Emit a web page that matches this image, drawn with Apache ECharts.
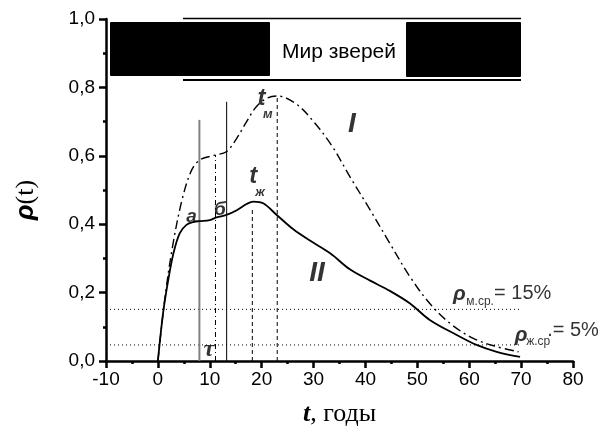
<!DOCTYPE html>
<html>
<head>
<meta charset="utf-8">
<script src="https://cdn.jsdelivr.net/npm/echarts@6/dist/echarts.min.js"></script>
<style>
html,body{margin:0;padding:0;background:#fff}
#main{width:601px;height:427px}
</style>
</head>
<body>
<div id="main"></div>
<script>
// кривая I (штрих-пунктир)
var tI = [0, 1.4, 3, 4.8, 6.5, 8.1, 11, 13.2, 15.2, 17.1, 19, 21, 23, 26.7, 30, 33.5, 37, 40.9, 44.7, 48.6, 52.4, 56.3, 60.8, 65.3, 69.5];
var vI = [0, 0.19, 0.35, 0.48, 0.558, 0.588, 0.602, 0.612, 0.651, 0.70, 0.744, 0.768, 0.775, 0.751, 0.70, 0.63, 0.539, 0.442, 0.344, 0.246, 0.168, 0.11, 0.066, 0.042, 0.027];
// кривая II (сплошная)
var tII = [0, 1, 2, 3, 4.2, 5.5, 7, 8, 10, 11.3, 13.2, 15.2, 17.1, 18.4, 20.3, 22.9, 26.1, 29.3, 33.2, 37, 40.9, 44.7, 48.6, 52.4, 57.6, 61.4, 65.3, 69.8];
var vII = [0, 0.14, 0.237, 0.315, 0.373, 0.398, 0.407, 0.409, 0.412, 0.42, 0.427, 0.441, 0.459, 0.466, 0.461, 0.427, 0.385, 0.352, 0.315, 0.268, 0.235, 0.205, 0.168, 0.12, 0.076, 0.047, 0.027, 0.012];
// вертикальные отметки: а, б(пунктир), б, tж, tм
var markT = [8, 11.1, 13.25, 18.2, 23.0];
var markTop = [0.705, 0.602, 0.758, 0.45, 0.775];
var markKind = ['gray', 'dashdot', 'solid', 'dash', 'dash'];
// уровни rho ср.
var levelV = [0.151, 0.047];
var levelFrom = -10, levelTo = 70;
// подписи
var noteText = ['а', 'б', 't', 'м', 't', 'ж', 'I', 'II', 'τ', 'ρ', 'м.ср.', '= 15%', 'ρ', 'ж.ср', '.= 5%'];
var noteT = [6.5, 11.95, 19.96, 21.2, 18.38, 19.67, 37.4, 30.66, 9.83, 58.1, 62.1, 70.3, 70.0, 73.3, 80.0];
var noteV = [0.422, 0.442, 0.7675, 0.722, 0.539, 0.493, 0.693, 0.257, 0.032, 0.196, 0.172, 0.198, 0.076, 0.057, 0.088];
var noteKind = ['letter', 'letter', 'tbig', 'sub', 'tbig', 'sub', 'roman', 'roman', 'tau', 'rho', 'sub2', 'eq', 'rho', 'sub2', 'eq'];

var chart = echarts.init(document.getElementById('main'));

function zip(a, b) {
    var out = [];
    for (var i = 0; i < a.length; i++) out.push([a[i], b[i]]);
    return out;
}

var lineStyles = {
    gray: {color: '#808080', width: 2, type: 'solid'},
    dashdot: {color: '#000', width: 1, type: [5, 3, 1, 3]},
    solid: {color: '#000', width: 1, type: 'solid'},
    dash: {color: '#000', width: 1, type: [4, 3]}
};

var noteStyles = {
    letter: {fontFamily: 'Liberation Sans', fontStyle: 'italic', fontWeight: 'bold', fontSize: 19},
    tbig: {fontFamily: 'Liberation Sans', fontStyle: 'italic', fontWeight: 'bold', fontSize: 24},
    sub: {fontFamily: 'Liberation Sans', fontStyle: 'italic', fontWeight: 'bold', fontSize: 13},
    roman: {fontFamily: 'Liberation Sans', fontStyle: 'italic', fontWeight: 'bold', fontSize: 28},
    tau: {fontFamily: 'Liberation Serif', fontStyle: 'italic', fontWeight: 'bold', fontSize: 24},
    rho: {fontFamily: 'Liberation Sans', fontStyle: 'italic', fontWeight: 'bold', fontSize: 21},
    sub2: {fontFamily: 'Liberation Sans', fontSize: 12},
    eq: {fontFamily: 'Liberation Sans', fontSize: 20}
};

var series = [];

// уровни
for (var i = 0; i < levelV.length; i++) {
    series.push({
        type: 'line', symbol: 'none', silent: true, z: 1,
        lineStyle: {color: '#000', width: 1, type: [1, 3]},
        data: [[levelFrom, levelV[i]], [levelTo, levelV[i]]]
    });
}
// вертикали
for (var j = 0; j < markT.length; j++) {
    series.push({
        type: 'line', symbol: 'none', silent: true, z: 2,
        lineStyle: lineStyles[markKind[j]],
        data: [[markT[j], 0], [markT[j], markTop[j]]]
    });
}
series.push({
    name: 'I', type: 'line', symbol: 'none', smooth: 0.35, z: 3,
    lineStyle: {color: '#000', width: 1.4, type: [9, 4, 2, 4]},
    data: zip(tI, vI)
});
series.push({
    name: 'II', type: 'line', symbol: 'none', smooth: 0.35, z: 3,
    lineStyle: {color: '#000', width: 1.8},
    data: zip(tII, vII)
});

var notes = [];
for (var k = 0; k < noteText.length; k++) {
    var st = noteStyles[noteKind[k]];
    notes.push({
        value: [noteT[k], noteV[k]],
        label: {
            show: true, position: 'inside', color: '#000',
            formatter: noteText[k],
            fontFamily: st.fontFamily, fontSize: st.fontSize,
            fontStyle: st.fontStyle || 'normal', fontWeight: st.fontWeight || 'normal'
        }
    });
}
series.push({
    type: 'scatter', symbolSize: 0, silent: true, clip: false, z: 5,
    data: notes
});

var option = {
    animation: false,
    backgroundColor: '#fff',
    grid: {left: 106, right: 28, top: 19, bottom: 66, outerBoundsMode: 'none', containLabel: false},
    xAxis: {
        type: 'value', min: -10, max: 80, interval: 10,
        axisLine: {show: true, onZero: false, lineStyle: {color: '#000', width: 2.5}},
        axisTick: {show: true, length: 7, lineStyle: {color: '#000', width: 2.5}},
        minorTick: {show: true, splitNumber: 2, length: 3, lineStyle: {color: '#000', width: 2.5}},
        splitLine: {show: false},
        axisLabel: {color: '#000', fontFamily: 'Liberation Sans', fontSize: 19, margin: 9},
        name: '{t|t}{p|, годы}',
        nameLocation: 'middle', nameGap: 40,
        nameTextStyle: {
            rich: {
                t: {fontFamily: 'Liberation Serif', fontStyle: 'italic', fontWeight: 'bold', fontSize: 26, color: '#000'},
                p: {fontFamily: 'Liberation Serif', fontSize: 26, color: '#000'}
            }
        }
    },
    yAxis: {
        type: 'value', min: 0, max: 1, interval: 0.2,
        axisLine: {show: true, onZero: false, lineStyle: {color: '#000', width: 2.5}},
        axisTick: {show: true, length: 7, lineStyle: {color: '#000', width: 2.5}},
        minorTick: {show: true, splitNumber: 2, length: 3, lineStyle: {color: '#000', width: 2.5}},
        splitLine: {show: false},
        axisLabel: {
            color: '#000', fontFamily: 'Liberation Sans', fontSize: 19, margin: 11,
            formatter: function (v) { return v.toFixed(1).replace('.', ','); }
        }
    },
    graphic: [
        {type: 'rect', shape: {x: 110, y: 22, width: 160, height: 54, r: 1}, style: {fill: '#000'}},
        {type: 'rect', shape: {x: 406, y: 22, width: 115, height: 55, r: 1}, style: {fill: '#000'}},
        {type: 'line', shape: {x1: 183, y1: 18.5, x2: 521, y2: 18.5}, style: {stroke: '#000', lineWidth: 1.5}},
        {type: 'line', shape: {x1: 183, y1: 80, x2: 521, y2: 80}, style: {stroke: '#000', lineWidth: 2}},
        {type: 'text', x: 339, y: 52, style: {
            text: 'Мир зверей', fill: '#000', font: '21px "Liberation Sans"',
            align: 'center', verticalAlign: 'middle'
        }},
        {type: 'text', x: 26, y: 200, rotation: Math.PI / 2, style: {
            text: '{r|ρ}{p|(t)}', align: 'center', verticalAlign: 'middle',
            rich: {
                r: {fontFamily: 'Liberation Sans', fontStyle: 'italic', fontWeight: 'bold', fontSize: 26, fill: '#000'},
                p: {fontFamily: 'Liberation Serif', fontSize: 26, fill: '#000'}
            }
        }}
    ],
    series: series
};
chart.setOption(option);
</script>
</body>
</html>
